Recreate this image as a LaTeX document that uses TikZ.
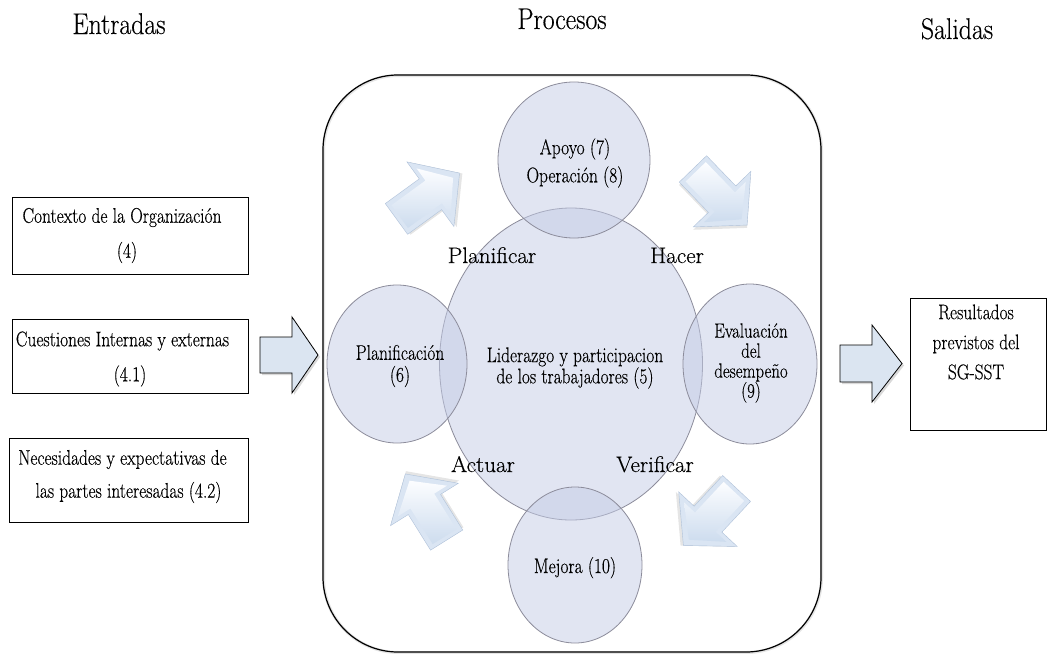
\documentclass[tikz,border=0pt]{standalone}
\usepackage{fontspec}
\setmainfont{Latin Modern Roman}
\newfontfamily\narrowserif{Latin Modern Roman}[FakeStretch=0.82, FakeBold=0.35]
\newfontfamily\titleserif{Latin Modern Roman}[FakeStretch=0.86, FakeBold=0.3]
\newfontfamily\labelserif{Latin Modern Roman}[FakeStretch=1.03, FakeBold=0.4]
\usetikzlibrary{shapes.geometric}

\definecolor{circfill}{RGB}{196,204,230}
\definecolor{circline}{RGB}{140,140,155}
\definecolor{flatarrow}{RGB}{219,229,241}
\definecolor{bevA}{RGB}{252,253,255}
\definecolor{bevB}{RGB}{205,220,238}
\definecolor{bevC}{RGB}{218,229,243}
\definecolor{bevD}{RGB}{175,193,217}

\tikzset{
  smalltxt/.style={font=\narrowserif\fontsize{21.2}{#1}\selectfont, inner sep=0pt, align=center},
  smalltxt/.default=22,
  cyclelabel/.style={font=\labelserif\fontsize{22.5}{24}\selectfont, inner sep=0pt, anchor=base},
  titletxt/.style={font=\titleserif\fontsize{30}{32}\selectfont, inner sep=0pt, anchor=base},
  inbox/.style={draw=black, line width=0.9pt, fill=white, inner sep=0pt},
  circ/.style={ellipse, draw=circline, line width=0.8pt, fill=circfill, fill opacity=0.5, inner sep=0pt},
  flatarr/.style={draw=black, line width=0.8pt, fill=flatarrow},
  bevelarrow/.pic={
    \path[fill=black, opacity=0.10] (-37,-17) -- (5,-17) -- (5,-38) -- (41,2) -- (5,42) -- (5,21) -- (-37,21) -- cycle;
    \path[fill=bevC, draw=bevD, line width=0.4pt] (-39,-19) -- (3,-19) -- (3,-40) -- (39,0) -- (3,40) -- (3,19) -- (-39,19) -- cycle;
    \path[top color=bevA, bottom color=bevB] (-35,-14) -- (7,-14) -- (7,-29) -- (31,0) -- (7,29) -- (7,14) -- (-35,14) -- cycle;
  }
}

\begin{document}
\begin{tikzpicture}[x=1pt,y=-1pt]
\useasboundingbox (0,0) rectangle (1048,653);
\fill[white] (0,0) rectangle (1048,653);

% titles
\node[titletxt] (tin) at (119,34) {Entradas};
\node[titletxt] (tproc) at (562,29) {Procesos};
\node[titletxt] (tout) at (957,39) {Salidas};

% process frame
\node[draw=black!10, line width=3pt, rounded corners=75pt, minimum width=498pt, minimum height=577pt, inner sep=0pt] (procshadow) at (572.5,364) {};
\node[draw=black, line width=1.2pt, rounded corners=75pt, minimum width=498pt, minimum height=577pt, inner sep=0pt] (proc) at (572,363.5) {};

% circles
\node[circ, minimum width=263pt, minimum height=312pt] (lid) at (571,364) {};
\node[circ, minimum width=152pt, minimum height=156pt] (apo) at (574,160) {};
\node[circ, minimum width=140pt, minimum height=158pt] (pla) at (397,364) {};
\node[circ, minimum width=134pt, minimum height=160pt] (eva) at (750,364) {};
\node[circ, minimum width=134pt, minimum height=156pt] (mej) at (575,565) {};

% circle texts
\node[smalltxt=28] (tapo) at (575,163) {Apoyo (7)\\Operación (8)};
\node[smalltxt=22] (tpla) at (400,366) {Planificación\\(6)};
\node[smalltxt=20] (tlid) at (575,368) {Liderazgo y participacion\\de los trabajadores (5)};
\node[smalltxt=20, font=\narrowserif\fontsize{20.5}{20}\selectfont] (teva) at (751,363) {Evaluación\\del\\desempeño\\(9)};
\node[smalltxt, anchor=base] (tmej) at (575,573) {Mejora (10)};

% cycle labels
\node[cyclelabel] (lplan) at (492,263) {Planificar};
\node[cyclelabel] (lhac) at (677,263) {Hacer};
\node[cyclelabel] (lact) at (483,472) {Actuar};
\node[cyclelabel] (lver) at (655,472) {Verificar};

% bevelled cycle arrows
\pic (aplan) [rotate=36] at (428,196) {bevelarrow};
\pic (ahac) [rotate=-46] at (720,197) {bevelarrow};
\pic (aver) [rotate=-133] at (710,517) {bevelarrow};
\pic (aact) [rotate=122] at (426,507) {bevelarrow};

% input boxes
\node[inbox, minimum width=236pt, minimum height=77pt] (b1) at (130,235.5) {};
\node[inbox, minimum width=236pt, minimum height=74pt] (b2) at (130,356) {};
\node[inbox, minimum width=239pt, minimum height=84pt] (b3) at (128.5,480) {};
\node[smalltxt=35] (tb1) at (122,235.5) {Contexto de la Organización\\\hspace*{10pt}(4)};
\node[smalltxt=35] (tb2) at (122.5,359) {Cuestiones Internas y externas\\\hspace*{15pt}(4.1)};
\node[smalltxt=33] (tb3) at (122.5,476.5) {Necesidades y expectativas de\\\hspace*{12pt}las partes interesadas (4.2)};

% output box
\node[inbox, minimum width=136pt, minimum height=132pt] (b4) at (978,364) {};
\node[smalltxt=30] (tb4) at (976,342) {Resultados\\previstos del\\SG-SST};

% flat block arrows
\path[fill=black, opacity=0.15] (262,339) -- (294,339) -- (294,319) -- (320,357) -- (294,395) -- (294,375) -- (262,375) -- cycle;
\path[flatarr] (260,337) -- (292,337) -- (292,317) -- (318,355) -- (292,393) -- (292,373) -- (260,373) -- cycle;
\path[fill=black, opacity=0.15] (842,347) -- (874,347) -- (874,327) -- (904,365.5) -- (874,404) -- (874,384) -- (842,384) -- cycle;
\path[flatarr] (840,345) -- (872,345) -- (872,325) -- (902,363.5) -- (872,402) -- (872,382) -- (840,382) -- cycle;
\end{tikzpicture}
\end{document}
